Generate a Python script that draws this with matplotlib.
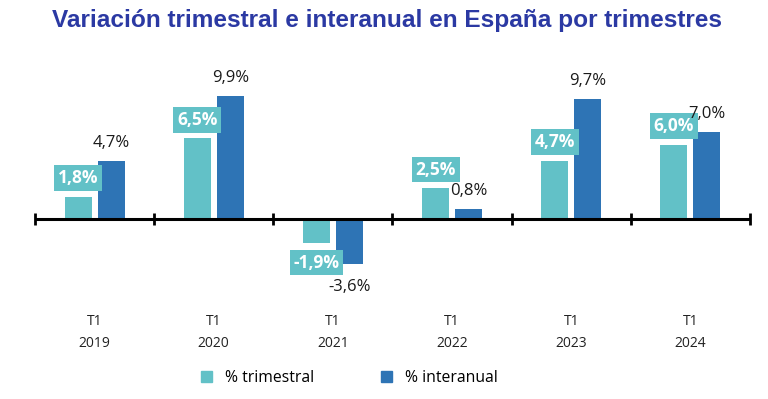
import matplotlib.pyplot as plt
from matplotlib.patches import Patch

# Data
quarters = ["T1", "T1", "T1", "T1", "T1", "T1"]
years = ["2019", "2020", "2021", "2022", "2023", "2024"]
trimestral = [1.8, 6.5, -1.9, 2.5, 4.7, 6.0]
interanual = [4.7, 9.9, -3.6, 0.8, 9.7, 7.0]

light = "#62c1c7"
dark = "#2e74b5"

plt.rcParams["font.family"] = ["Open Sans", "DejaVu Sans"]

fig = plt.figure(figsize=(7.68, 3.99), dpi=100)
ax = fig.add_axes([35 / 768, 105.6 / 399, 715 / 768, 223.2 / 399])

x = list(range(len(years)))
off = 0.138
w = 0.227
ax.bar([i - off for i in x], trimestral, width=w, color=light)
ax.bar([i + off for i in x], interanual, width=w, color=dark)

ax.set_xlim(-0.5, len(years) - 0.5)
ax.set_ylim(-6, 12)

# axis line with boundary ticks
ax.axhline(0, color="black", lw=2.2, zorder=3)
bounds = [i - 0.5 for i in range(len(years) + 1)]
ax.plot(bounds, [0] * len(bounds), ls="none", marker="|", ms=9, mew=2,
        color="black", zorder=3, clip_on=False)

# labels for trimestral (boxed)
for i, v in enumerate(trimestral):
    dy = 18.5 if v >= 0 else -20
    ax.annotate(f"{v:.1f}%".replace(".", ","), (i - off, v), xytext=(0, dy * 0.72),
                textcoords="offset points", ha="center", va="center",
                color="white", fontsize=12.5, fontweight="bold",
                bbox=dict(boxstyle="square,pad=0.22", fc=light, ec="none"))

# labels for interanual
for i, v in enumerate(interanual):
    dy = 18 if v >= 0 else -23
    ax.annotate(f"{v:.1f}%".replace(".", ","), (i + off, v), xytext=(0, dy * 0.72),
                textcoords="offset points", ha="center", va="center",
                color="#1a1a1a", fontsize=12)

ax.set_xticks(x)
ax.set_xticklabels([f"{q}\n{y}" for q, y in zip(quarters, years)],
                   fontsize=10, color="#222222", linespacing=1.65)
ax.tick_params(axis="x", length=0, pad=15)
ax.set_yticks([])
for s in ax.spines.values():
    s.set_visible(False)

fig.text(0.504, 0.948, "Variación trimestral e interanual en España por trimestres",
         ha="center", va="center", fontsize=17.6, fontweight="bold",
         color="#2b39a3", family="Liberation Sans")

handles = [Patch(color=light, label="% trimestral"),
           Patch(color=dark, label="% interanual")]
fig.legend(handles=handles, loc="center", bbox_to_anchor=(0.455, 0.052), ncol=2,
           frameon=False, fontsize=11.3, handlelength=0.7, handleheight=0.7,
           handletextpad=0.8, columnspacing=4.3)

fig.savefig("out.png", dpi=100)
